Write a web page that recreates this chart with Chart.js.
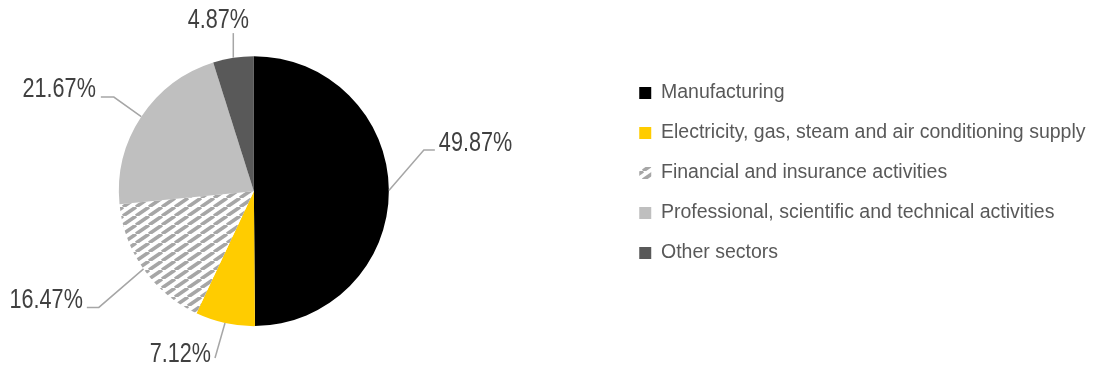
<!DOCTYPE html>
<html>
<head>
<meta charset="utf-8">
<script src="https://cdn.jsdelivr.net/npm/chart.js@4.4.1/dist/chart.umd.min.js"></script>
<style>
  html, body { margin: 0; padding: 0; background: #fff; overflow: hidden; }
  #wrap { width: 1207.5px; height: 370px; position: absolute; left: -111.5px; top: 0; }
</style>
</head>
<body>
<div id="wrap"><canvas id="chart"></canvas></div>
<script>
const categories = [
  'Manufacturing',
  'Electricity, gas, steam and air conditioning supply',
  'Financial and insurance activities',
  'Professional, scientific and technical activities',
  'Other sectors'
];
const shares = [49.87, 7.12, 16.47, 21.67, 4.87];

// where each label sits relative to its slice edge (elbow, tail, text nudge)
const leaders = [
  { dx: 35, dy: -40.5, tail: 11, tx: 4, ty: 1, align: 'left' },
  { dx: -10, dy: 35, tail: 0, tx: -4, ty: 4, align: 'right' },
  { dx: -44.7, dy: 38.5, tail: -12, tx: -4, ty: 1, align: 'right' },
  { dx: -27.4, dy: -19.6, tail: -13, tx: -5, ty: 0, align: 'right' },
  { dx: 0, dy: -24.6, tail: 0, tx: -15, ty: -5, align: 'center' }
];

function hatch() {
  const w = 13, h = 9;
  const c = document.createElement('canvas');
  c.width = w; c.height = h;
  const g = c.getContext('2d');
  g.fillStyle = '#ffffff';
  g.fillRect(0, 0, w, h);
  g.strokeStyle = '#a6a6a6';
  g.lineWidth = 3.6;
  for (let k = -1; k <= 1; k++) {
    g.beginPath();
    g.moveTo(k * w, h);
    g.lineTo(k * w + w, 0);
    g.stroke();
  }
  return g.createPattern(c, 'repeat');
}

const ctx = document.getElementById('chart');

const leaderLabels = {
  id: 'leaderLabels',
  afterDatasetsDraw(chart) {
    const c = chart.ctx;
    const meta = chart.getDatasetMeta(0);
    meta.data.forEach((arc, i) => {
      const p = arc.getProps(['x', 'y', 'startAngle', 'endAngle', 'outerRadius']);
      const mid = (p.startAngle + p.endAngle) / 2;
      const ax = p.x + Math.cos(mid) * p.outerRadius;
      const ay = p.y + Math.sin(mid) * p.outerRadius;
      const L = leaders[i];
      const ex = ax + L.dx, ey = ay + L.dy;
      const tx = ex + L.tail;
      c.save();
      c.strokeStyle = '#a6a6a6';
      c.lineWidth = 1.5;
      c.beginPath();
      c.moveTo(ax, ay);
      c.lineTo(ex, ey);
      if (L.tail) c.lineTo(tx, ey);
      c.stroke();
      c.translate(tx + L.tx, ey + L.ty);
      c.scale(0.8, 1);
      c.font = '27px "Liberation Sans", Arial, sans-serif';
      c.fillStyle = '#404040';
      c.textAlign = L.align;
      c.textBaseline = 'alphabetic';
      c.fillText(shares[i].toFixed(2) + '%', 0, 0);
      c.restore();
    });
  }
};

new Chart(ctx, {
  type: 'pie',
  data: {
    labels: categories,
    datasets: [{
      data: shares,
      backgroundColor: ['#000000', '#ffcc00', hatch(), '#bfbfbf', '#595959'],
      borderWidth: 0,
      radius: 135
    }]
  },
  options: {
    responsive: true,
    maintainAspectRatio: false,
    animation: false,
    layout: { padding: { top: 62.75, bottom: 50.5, right: 1 } },
    plugins: {
      tooltip: { enabled: false },
      legend: {
        position: 'right',
        align: 'start',
        labels: {
          boxWidth: 12,
          boxHeight: 12,
          padding: 20.5,
          color: '#595959',
          font: { family: '"Liberation Sans", Arial, sans-serif', size: 19.5 }
        }
      }
    }
  },
  plugins: [leaderLabels]
});
</script>
</body>
</html>
